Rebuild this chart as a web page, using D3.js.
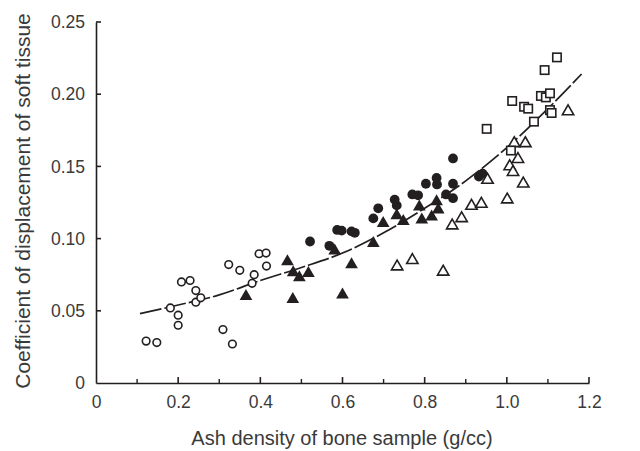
<!DOCTYPE html>
<html><head><meta charset="utf-8">
<script src="https://cdn.jsdelivr.net/npm/d3@7"></script>
<style>body{margin:0;background:#fff}svg{display:block}</style>
</head><body>
<svg id="c" width="640" height="451"></svg>
<script>
// ---- data ----
const openCircleX = [0.122,0.148,0.181,0.200,0.200,0.208,0.229,0.243,0.243,0.255,0.309,0.332,0.323,0.350,0.385,0.380,0.397,0.414,0.415];
const openCircleY = [0.029,0.028,0.052,0.047,0.040,0.070,0.071,0.064,0.056,0.059,0.037,0.027,0.082,0.078,0.075,0.069,0.0895,0.090,0.081];
const filledTriX = [0.365,0.466,0.480,0.495,0.517,0.479,0.581,0.622,0.600,0.675,0.699,0.732,0.748,0.787,0.793,0.817,0.829,0.833];
const filledTriY = [0.060,0.084,0.0764,0.073,0.076,0.058,0.0916,0.082,0.061,0.0967,0.1106,0.116,0.112,0.122,0.113,0.115,0.1256,0.120];
const filledCircX = [0.521,0.568,0.587,0.598,0.622,0.630,0.675,0.687,0.727,0.732,0.770,0.784,0.803,0.829,0.830,0.869,0.869,0.869,0.852,0.932,0.941];
const filledCircY = [0.098,0.095,0.106,0.1055,0.105,0.104,0.114,0.121,0.127,0.123,0.1306,0.130,0.138,0.142,0.1375,0.1555,0.138,0.128,0.1306,0.143,0.145];
const openTriX = [0.733,0.770,0.845,0.867,0.890,0.914,0.938,0.953,1.001,1.007,1.015,1.027,1.040,1.018,1.045,1.149];
const openTriY = [0.0806,0.085,0.077,0.109,0.114,0.1226,0.124,0.1406,0.127,0.150,0.146,0.155,0.138,0.166,0.166,0.188];
const squareX = [1.122,1.092,1.013,1.042,1.052,1.083,1.095,1.105,1.105,1.109,1.066,0.951,1.010];
const squareY = [0.2255,0.2167,0.1953,0.1913,0.190,0.1988,0.1978,0.2006,0.189,0.187,0.181,0.176,0.161];
const fitX = [0.107,0.2,0.3,0.4,0.5,0.6,0.7,0.8,0.9,1.0,1.1,1.182];
const fitY = [0.048,0.054,0.061,0.071,0.080,0.090,0.104,0.121,0.140,0.163,0.190,0.214];
const xTicks = [0,0.2,0.4,0.6,0.8,1.0,1.2];
const xTickLabels = ["0","0.2","0.4","0.6","0.8","1.0","1.2"];
const xMinorTicks = [0.1,0.3,0.5,0.7,0.9,1.1];
const yTicks = [0,0.05,0.10,0.15,0.20,0.25];
const yTickLabels = ["0","0.05","0.10","0.15","0.20","0.25"];
const xTitle = "Ash density of bone sample (g/cc)";
const yTitle = "Coefficient of displacement of soft tissue";

// ---- drawing ----
const svg = d3.select("#c");
const L = 96, R = 589, T = 22, B = 383;
const x = d3.scaleLinear().domain([0,1.2]).range([L,R]);
const y = d3.scaleLinear().domain([0,0.25]).range([B,T]);
const font = "'Liberation Sans', Arial, Helvetica, sans-serif";
const ink = "#231f20";
const txt = "#3a3a3a";

// x axis
const xAxis = d3.axisBottom(x).tickValues(xTicks).tickSize(0).tickPadding(0).tickFormat((d,i)=>xTickLabels[i]);
const gx = svg.append("g").attr("transform",`translate(0,${B})`).call(xAxis);
gx.select(".domain").attr("stroke",ink).attr("stroke-width",1.6);
gx.selectAll(".tick text").attr("font-family",font).attr("font-size",17.5).attr("fill",txt).attr("dy","1.45em");
svg.append("g").selectAll("line").data(xTicks.slice(1)).join("line")
  .attr("x1",d=>x(d)).attr("x2",d=>x(d)).attr("y1",B).attr("y2",B-6).attr("stroke",ink).attr("stroke-width",1.6);
svg.append("g").selectAll("line").data(xMinorTicks).join("line")
  .attr("x1",d=>x(d)).attr("x2",d=>x(d)).attr("y1",B).attr("y2",B-4).attr("stroke",ink).attr("stroke-width",1.4);

// y axis
const yAxis = d3.axisLeft(y).tickValues(yTicks).tickSize(0).tickPadding(11).tickFormat((d,i)=>yTickLabels[i]);
const gy = svg.append("g").attr("transform",`translate(${L},0)`).call(yAxis);
gy.select(".domain").attr("stroke",ink).attr("stroke-width",1.6);
gy.selectAll(".tick text").attr("font-family",font).attr("font-size",17.5).attr("fill",txt);
svg.append("g").selectAll("line").data(yTicks.slice(1)).join("line")
  .attr("x1",L).attr("x2",L+5).attr("y1",d=>y(d)).attr("y2",d=>y(d)).attr("stroke",ink).attr("stroke-width",1.6);

// titles
svg.append("text").attr("x",342).attr("y",445).attr("text-anchor","middle")
  .attr("font-family",font).attr("font-size",20).attr("fill",txt).text(xTitle);
svg.append("text").attr("transform",`translate(30,201) rotate(-90)`).attr("text-anchor","middle")
  .attr("font-family",font).attr("font-size",21).attr("fill",txt).text(yTitle);

// fitted curve
const fitPts = fitX.map((v,i)=>[v,fitY[i]]);
svg.append("path").datum(fitPts)
  .attr("d", d3.line().x(d=>x(d[0])).y(d=>y(d[1])).curve(d3.curveMonotoneX))
  .attr("fill","none").attr("stroke",ink).attr("stroke-width",1.7).attr("stroke-dasharray","22,3");

const zip = (a,b)=>a.map((v,i)=>[v,b[i]]);
const sym = (type,size)=>d3.symbol().type(type).size(size);

// open circles
svg.append("g").selectAll("circle").data(zip(openCircleX,openCircleY)).join("circle")
  .attr("cx",d=>x(d[0])).attr("cy",d=>y(d[1])).attr("r",3.8)
  .attr("fill","#fff").attr("stroke",ink).attr("stroke-width",1.6);
// filled triangles
svg.append("g").selectAll("path").data(zip(filledTriX,filledTriY)).join("path")
  .attr("transform",d=>`translate(${x(d[0])},${y(d[1])})`).attr("d",sym(d3.symbolTriangle,70))
  .attr("fill",ink);
// filled circles
svg.append("g").selectAll("circle").data(zip(filledCircX,filledCircY)).join("circle")
  .attr("cx",d=>x(d[0])).attr("cy",d=>y(d[1])).attr("r",4.9).attr("fill",ink);
// open triangles
svg.append("g").selectAll("path").data(zip(openTriX,openTriY)).join("path")
  .attr("transform",d=>`translate(${x(d[0])},${y(d[1])})`).attr("d",sym(d3.symbolTriangle,56))
  .attr("fill","#fff").attr("stroke",ink).attr("stroke-width",1.6);
// open squares
svg.append("g").selectAll("rect").data(zip(squareX,squareY)).join("rect")
  .attr("x",d=>x(d[0])-4.2).attr("y",d=>y(d[1])-4.2).attr("width",8.4).attr("height",8.4)
  .attr("fill","#fff").attr("stroke",ink).attr("stroke-width",1.6);
</script>
</body></html>
